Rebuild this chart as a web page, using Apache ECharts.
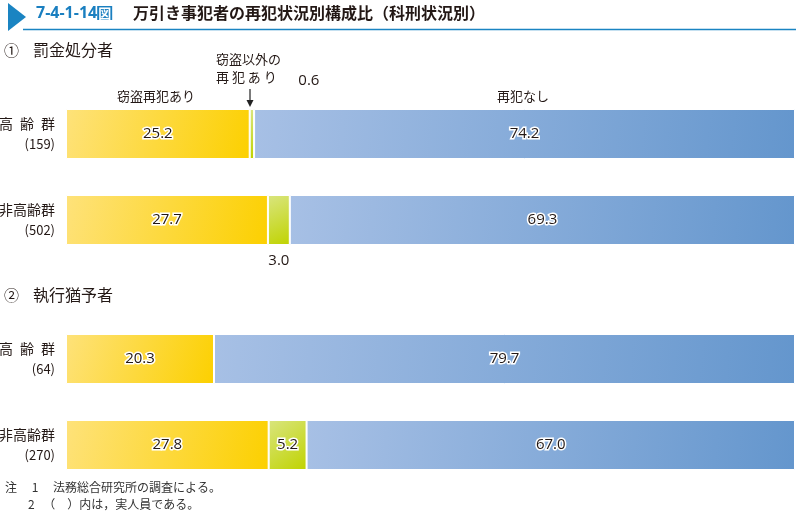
<!DOCTYPE html>
<html><head><meta charset="utf-8">
<script src="https://cdn.jsdelivr.net/npm/echarts@6/dist/echarts.min.js"></script>
<style>html,body{margin:0;padding:0;background:#fff}#c{width:796px;height:512px}</style>
</head><body><div id="c"></div>
<script>
// ---- data ----
const groups = ['高\u2002齢\u2002群', '非高齢群'];
const fineCounts = ['159', '502'];
const probCounts = ['64', '270'];
const fineTheft = [25.2, 27.7];
const fineOther = [0.6, 3.0];
const fineNone = [74.2, 69.3];
const probTheft = [20.3, 27.8];
const probOther = [0, 5.2];
const probNone = [79.7, 67.0];
const seriesNames = ['窃盗再犯あり', '窃盗以外の再犯あり', '再犯なし'];

const FONT = '"Noto Sans CJK JP", "Noto Sans", sans-serif';
const TXT = '#231815';
const grad = (a, b) => ({type: 'linear', x: 0, y: 0, x2: 1, y2: 1, colorStops: [{offset: 0, color: a}, {offset: 1, color: b}]});
const colY = grad('#fee27a', '#fcd000');
const colG = grad('#d9e57f', '#c0d300');
const colB = grad('#a7c0e5', '#6496cd');

const inLabel = {show: true, position: 'inside', fontSize: 15, color: TXT, fontFamily: '"Open Sans", "Noto Sans", sans-serif',
  textBorderColor: '#fff', textBorderWidth: 3, formatter: p => p.value.toFixed(1)};

function cats(counts) { return groups.map((g, i) => g + '\n(' + counts[i] + ')'); }

function yAxis(gi, counts) {
  return {type: 'category', gridIndex: gi, inverse: true, data: cats(counts),
    axisLine: {show: false}, axisTick: {show: false},
    axisLabel: {margin: 11, align: 'right', fontFamily: FONT,
      formatter: v => { const [a, b] = v.split('\n'); return '{n|' + a + '}\n{c|' + b + '}'; },
      rich: {n: {fontSize: 14, color: TXT, lineHeight: 21, fontFamily: FONT, align: 'right'},
             c: {fontSize: 13, color: TXT, lineHeight: 21, fontFamily: FONT, align: 'right'}}}};
}
function xAxis(gi) { return {type: 'value', gridIndex: gi, min: 0, max: 100, show: false}; }

function bar(name, gi, vals, color, labelFn) {
  return {type: 'bar', name: name, stack: 's' + gi, xAxisIndex: gi, yAxisIndex: gi, barWidth: 50,
    itemStyle: {color: color, borderColor: '#fff', borderWidth: 1},
    data: vals.map((v, i) => {
      const d = {value: v};
      const l = labelFn(v, i);
      if (l) d.label = l;
      return d;
    })};
}

const otherLabelFine = (v, i) => i === 0
  ? {show: true, position: 'top', offset: [57, -16], fontSize: 15, color: TXT, fontFamily: '"Open Sans", sans-serif', formatter: p => p.value.toFixed(1)}
  : {show: true, position: 'bottom', distance: 8, fontSize: 15, color: TXT, fontFamily: '"Open Sans", sans-serif', formatter: p => p.value.toFixed(1)};
const otherLabelProb = (v, i) => v > 0 ? inLabel : {show: false};

const chart = echarts.init(document.getElementById('c'), null, {renderer: 'canvas'});
chart.setOption({
  animation: false,
  grid: [
    {left: 66, right: 1, top: 91, height: 172, containLabel: false, outerBoundsMode: 'none'},
    {left: 66, right: 1, top: 316, height: 172, containLabel: false, outerBoundsMode: 'none'}
  ],
  xAxis: [xAxis(0), xAxis(1)],
  yAxis: [yAxis(0, fineCounts), yAxis(1, probCounts)],
  series: [
    bar(seriesNames[0], 0, fineTheft, colY, () => inLabel),
    bar(seriesNames[1], 0, fineOther, colG, otherLabelFine),
    bar(seriesNames[2], 0, fineNone, colB, () => inLabel),
    bar(seriesNames[0], 1, probTheft, colY, () => inLabel),
    bar(seriesNames[1], 1, probOther, colG, otherLabelProb),
    bar(seriesNames[2], 1, probNone, colB, () => inLabel)
  ],
  graphic: [
    {type: 'polygon', shape: {points: [[8, 3], [26, 17], [8, 31]]}, style: {fill: '#1a84c2'}},
    {type: 'line', shape: {x1: 23, y1: 29.5, x2: 796, y2: 29.5}, style: {stroke: '#1a84c2', lineWidth: 1.5}},
    {type: 'text', left: 36, top: 5, style: {text: '{a|7-4-1-14}{b|図}', rich: {
      a: {fontSize: 16, fontWeight: 'bold', fill: '#1a7fc0', fontFamily: '"Open Sans", sans-serif'},
      b: {fontSize: 13, fontWeight: 'bold', fill: '#fff', backgroundColor: '#1a7fc0', padding: [1, 1, 0, 1], fontFamily: FONT}}}},
    {type: 'text', left: 133, top: 5, style: {text: '万引き事犯者の再犯状況別構成比（科刑状況別）', fontSize: 16, fontWeight: 'bold', fill: TXT, fontFamily: FONT}},
    {type: 'text', left: 4, top: 43, style: {text: '①', fontSize: 15, fill: TXT, fontFamily: FONT}},
    {type: 'text', left: 33, top: 42, style: {text: '罰金処分者', fontSize: 16, fill: TXT, fontFamily: FONT}},
    {type: 'text', left: 4, top: 288, style: {text: '②', fontSize: 15, fill: TXT, fontFamily: FONT}},
    {type: 'text', left: 33, top: 287, style: {text: '執行猶予者', fontSize: 16, fill: TXT, fontFamily: FONT}},
    {type: 'text', left: 117, top: 90, style: {text: '窃盗再犯あり', fontSize: 13, fill: TXT, fontFamily: FONT}},
    {type: 'text', left: 497, top: 90, style: {text: '再犯なし', fontSize: 13, fill: TXT, fontFamily: FONT}},
    {type: 'text', left: 216, top: 53, style: {text: '窃盗以外の', fontSize: 13, fill: TXT, fontFamily: FONT}},
    {type: 'text', left: 216, top: 71, style: {text: '再 犯 あ り', fontSize: 13, fill: TXT, fontFamily: FONT}},
    {type: 'line', shape: {x1: 250, y1: 89, x2: 250, y2: 102}, style: {stroke: '#222', lineWidth: 1.2}},
    {type: 'polygon', shape: {points: [[246.5, 100], [253.5, 100], [250, 107]]}, style: {fill: '#222'}},
    {type: 'text', left: 5, top: 481, style: {text: '注　 1 　法務総合研究所の調査による。', fontSize: 12, fill: '#333', fontFamily: FONT}},
    {type: 'text', left: 28, top: 498, style: {text: '2 　（　）内は，実人員である。', fontSize: 12, fill: '#333', fontFamily: FONT}}
  ]
});
</script></body></html>
